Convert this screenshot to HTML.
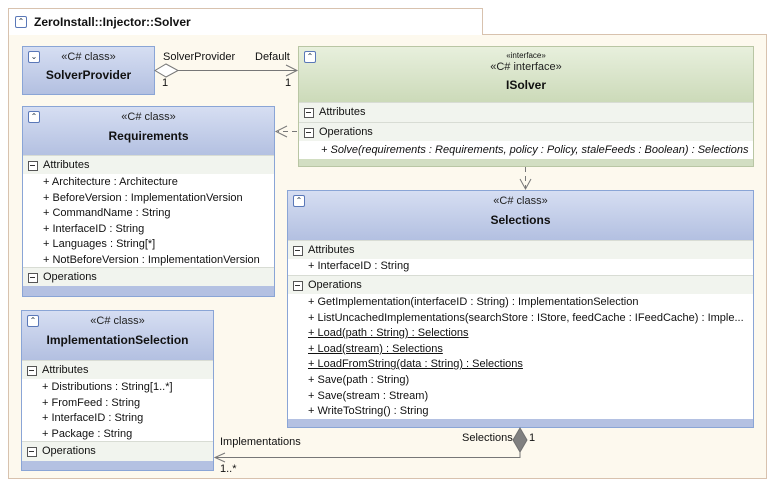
<!DOCTYPE html>
<html><head><meta charset="utf-8"><style>
*{margin:0;padding:0;box-sizing:border-box}
body{width:775px;height:487px;background:#fff;position:relative;overflow:hidden;font-family:"Liberation Sans",sans-serif;font-size:11px;color:#111}
.a{position:absolute}
.box{position:absolute;border:1px solid #8aa5d6;background:#b4c1e2}
.hd{position:absolute;left:0;right:0;top:0;background:linear-gradient(#d6def2,#b3c0e1);text-align:center}
.ghd{background:linear-gradient(#e8f0dd,#ccdab9)}
.sec{position:absolute;left:0;right:0;background:#f1f4ee;border-top:1px solid #d8dcd4;padding-left:20px;line-height:18px}
.sec:before{content:"";position:absolute;left:5px;top:5px;width:8px;height:8px;border:1px solid #555;background:#fff}
.sec:after{content:"";position:absolute;left:7px;top:9px;width:5px;height:1px;background:#333}
.it{position:absolute;left:0;right:0;background:#fff;padding-left:20px}
.it div{height:15.6px;line-height:15.6px;white-space:nowrap;overflow:hidden}
.ic{position:absolute;left:5px;top:4px;width:12px;height:12px;border:1px solid #5a78b8;background:#fff;font-size:8px;line-height:10px;text-align:center;color:#234;border-radius:2px}
.st{font-size:11px;color:#222}
.nm{font-weight:bold;font-size:12px}
u{text-decoration:underline}
</style></head><body>
<!-- frame -->
<div class="a" style="left:8px;top:8px;width:475px;height:27px;border:1px solid #d8c2ae;border-bottom:none;background:#fff"></div>
<div class="a" style="left:8px;top:34px;width:759px;height:445px;border:1px solid #d8c2ae;background:#fdf9ee"></div>
<div class="a" style="left:9px;top:34px;width:473px;height:1px;background:#fff"></div>
<div class="a ic" style="left:15px;top:16px">&#8963;</div>
<div class="a nm" style="left:34px;top:15px;font-size:12px">ZeroInstall::Injector::Solver</div>

<!-- SolverProvider -->
<div class="box" style="left:22px;top:46px;width:133px;height:49px">
 <div class="hd" style="height:47px"><div class="st" style="margin-top:4px">«C# class»</div><div class="nm" style="margin-top:5px">SolverProvider</div></div>
 <div class="ic">&#8964;</div>
</div>

<!-- Requirements -->
<div class="box" style="left:22px;top:106px;width:253px;height:191px">
 <div class="hd" style="height:49px"><div class="st" style="margin-top:4px">«C# class»</div><div class="nm" style="margin-top:6px">Requirements</div></div>
 <div class="ic">&#8963;</div>
 <div class="sec" style="top:48px;height:19px">Attributes</div>
 <div class="it" style="top:67px;height:94px;padding-top:1px"><div>+ Architecture : Architecture</div><div>+ BeforeVersion : ImplementationVersion</div><div>+ CommandName : String</div><div>+ InterfaceID : String</div><div>+ Languages : String[*]</div><div>+ NotBeforeVersion : ImplementationVersion</div></div>
 <div class="sec" style="top:160px;height:19px">Operations</div>
</div>

<!-- ImplementationSelection -->
<div class="box" style="left:21px;top:310px;width:193px;height:161px">
 <div class="hd" style="height:49px"><div class="st" style="margin-top:4px">«C# class»</div><div class="nm" style="margin-top:6px">ImplementationSelection</div></div>
 <div class="ic">&#8963;</div>
 <div class="sec" style="top:49px;height:19px">Attributes</div>
 <div class="it" style="top:68px;height:63px;padding-top:1px"><div>+ Distributions : String[1..*]</div><div>+ FromFeed : String</div><div>+ InterfaceID : String</div><div>+ Package : String</div></div>
 <div class="sec" style="top:130px;height:20px">Operations</div>
</div>

<!-- ISolver -->
<div class="box" style="left:298px;top:46px;width:456px;height:121px;border-color:#b9c6a4;background:#d2dec2">
 <div class="hd ghd" style="height:55px"><div style="font-size:8px;margin-top:4px">«interface»</div><div class="st" style="margin-top:1px">«C# interface»</div><div class="nm" style="margin-top:5px">ISolver</div></div>
 <div class="ic">&#8963;</div>
 <div class="sec" style="top:55px;height:20px">Attributes</div>
 <div class="sec" style="top:75px;height:19px">Operations</div>
 <div class="it" style="top:94px;height:18px;line-height:18px;font-style:italic;padding-left:22px">+ Solve(requirements : Requirements, policy : Policy, staleFeeds : Boolean) : Selections</div>
</div>

<!-- Selections -->
<div class="box" style="left:287px;top:190px;width:467px;height:238px">
 <div class="hd" style="height:49px"><div class="st" style="margin-top:4px">«C# class»</div><div class="nm" style="margin-top:6px">Selections</div></div>
 <div class="ic">&#8963;</div>
 <div class="sec" style="top:49px;height:19px">Attributes</div>
 <div class="it" style="top:68px;height:16px"><div>+ InterfaceID : String</div></div>
 <div class="sec" style="top:84px;height:19px">Operations</div>
 <div class="it" style="top:103px;height:125px;padding-top:1px"><div>+ GetImplementation(interfaceID : String) : ImplementationSelection</div><div>+ ListUncachedImplementations(searchStore : IStore, feedCache : IFeedCache) : Imple...</div><div><u>+ Load(path : String) : Selections</u></div><div><u>+ Load(stream) : Selections</u></div><div><u>+ LoadFromString(data : String) : Selections</u></div><div>+ Save(path : String)</div><div>+ Save(stream : Stream)</div><div>+ WriteToString() : String</div></div>
</div>

<svg class="a" style="left:0;top:0" width="775" height="487">
 <g stroke="#777" fill="none" stroke-width="1">
  <line x1="178" y1="70.5" x2="297" y2="70.5"/>
  <polyline points="286,65 297,70.5 286,76"/>
  <polygon points="155,70.5 166,64 178,70.5 166,77" fill="#fff"/>
  <line x1="297" y1="131.5" x2="278" y2="131.5" stroke-dasharray="5,4"/>
  <polyline points="287,126 276,131.5 287,137"/>
  <line x1="525.5" y1="167" x2="525.5" y2="189" stroke-dasharray="5,4"/>
  <polyline points="520,179 525.5,189 531,179"/>
  <polyline points="520,452 520,457.5 215,457.5"/>
  <polyline points="225,453 215,457.5 225,462"/>
  <polygon points="520,428 527,440 520,452 513,440" fill="#808080" stroke="#707070"/>
 </g>
</svg>
<div class="a" style="left:163px;top:51px">SolverProvider</div>
<div class="a" style="left:255px;top:51px">Default</div>
<div class="a" style="left:162px;top:77px">1</div>
<div class="a" style="left:285px;top:77px">1</div>
<div class="a" style="left:462px;top:432px">Selections</div>
<div class="a" style="left:529px;top:432px">1</div>
<div class="a" style="left:220px;top:436px">Implementations</div>
<div class="a" style="left:220px;top:463px">1..*</div>
</body></html>
